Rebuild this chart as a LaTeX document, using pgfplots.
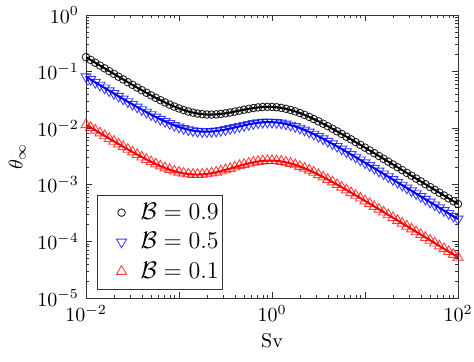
\documentclass[border=0pt]{standalone}
\usepackage{pgfplots}
\usepackage{pgfplotstable}
\pgfplotsset{compat=1.18}
\usetikzlibrary{calc}

% Sv, B=0.9, B=0.5, B=0.1
\pgfplotstableread{
Sv      b9        b5        b1
0.01    0.1804    0.08124   0.01155
0.01122 0.1609    0.07246   0.01031
0.01259 0.1435    0.06464   0.009199
0.01413 0.1281    0.05768   0.008214
0.01585 0.1143    0.05149   0.007337
0.01778 0.1020    0.04598   0.006558
0.01995 0.09109   0.04108   0.005866
0.02239 0.08139   0.03672   0.005252
0.02512 0.07276   0.03285   0.004707
0.02818 0.06511   0.02942   0.004225
0.03162 0.05831   0.02637   0.003799
0.03548 0.05229   0.02368   0.003423
0.03981 0.04696   0.02130   0.003093
0.04467 0.04226   0.01920   0.002803
0.05012 0.03812   0.01736   0.002551
0.05623 0.03448   0.01575   0.002333
0.0631  0.03129   0.01435   0.002145
0.07079 0.02853   0.01313   0.001986
0.07943 0.02613   0.01209   0.001853
0.08913 0.02409   0.01121   0.001744
0.1     0.02236   0.01048   0.001658
0.1122  0.02092   0.009878  0.001593
0.1259  0.01975   0.009408  0.001549
0.1413  0.01884   0.009058  0.001525
0.1585  0.01816   0.008821  0.001519
0.1778  0.01771   0.008692  0.001531
0.1995  0.01746   0.008665  0.001561
0.2239  0.01742   0.008735  0.001607
0.2512  0.01756   0.008896  0.001670
0.2818  0.01788   0.009140  0.001747
0.3162  0.01834   0.009461  0.001838
0.3548  0.01894   0.009846  0.001941
0.3981  0.01964   0.01028   0.002052
0.4467  0.02041   0.01075   0.002168
0.5012  0.02122   0.01123   0.002284
0.5623  0.02200   0.01169   0.002396
0.631   0.02271   0.01211   0.002497
0.7079  0.02329   0.01246   0.002582
0.7943  0.02370   0.01271   0.002643
0.8913  0.02387   0.01283   0.002677
1       0.02380   0.01281   0.002680
1.122   0.02346   0.01264   0.002651
1.259   0.02286   0.01233   0.002590
1.413   0.02202   0.01189   0.002501
1.585   0.02099   0.01134   0.002388
1.778   0.01981   0.01071   0.002256
1.995   0.01853   0.01002   0.002113
2.239   0.01719   0.009299  0.001962
2.512   0.01584   0.008569  0.001809
2.818   0.01450   0.007850  0.001658
3.162   0.01322   0.007156  0.001511
3.548   0.01200   0.006494  0.001372
3.981   0.01085   0.005874  0.001241
4.467   0.009783  0.005298  0.001119
5.012   0.008802  0.004767  0.001007
5.623   0.007905  0.004281  0.0009048
6.31    0.007088  0.003838  0.0008113
7.079   0.006348  0.003438  0.0007267
7.943   0.005680  0.003076  0.0006503
8.913   0.005078  0.002750  0.0005814
10      0.004536  0.002457  0.0005194
11.22   0.004051  0.002194  0.0004639
12.59   0.003616  0.001958  0.0004140
14.13   0.003227  0.001748  0.0003695
15.85   0.002879  0.001559  0.0003297
17.78   0.002568  0.001391  0.0002941
19.95   0.002290  0.001241  0.0002623
22.39   0.002042  0.001106  0.0002338
25.12   0.001821  0.0009862 0.0002085
28.18   0.001623  0.0008787 0.0001859
31.62   0.001447  0.0007836 0.0001657
35.48   0.001290  0.0006988 0.0001477
39.81   0.001150  0.0006223 0.0001317
44.67   0.001025  0.0005551 0.0001174
50.12   0.0009135 0.0004952 0.0001046
56.23   0.0008142 0.0004414 0.00009325
63.1    0.0007257 0.0003928 0.00008312
70.79   0.0006468 0.0003504 0.00007412
79.43   0.0005765 0.0003122 0.00006605
89.13   0.0005138 0.0002781 0.00005889
100     0.0004580 0.0002481 0.00005245
}\data

\begin{document}
\begin{tikzpicture}
\begin{axis}[
    name=ax,
    scale only axis,
    width=186pt, height=141.5pt,
    xmode=log, ymode=log,
    xmin=1e-2, xmax=1e2,
    ymin=1e-5, ymax=1,
    xtick={1e-2,1e-1,1,1e1,1e2},
    xticklabels={$10^{-2}$,,$10^{0}$,,$10^{2}$},
    ytick={1e-5,1e-4,1e-3,1e-2,1e-1,1},
    tick align=inside,
    major tick length=2.8pt,
    minor tick length=1.6pt,
    axis line style={black!80, line width=0.4pt},
    every tick/.style={black!80, line width=0.4pt},
    xlabel={Sv},
    ylabel={$\theta_\infty$},
    xlabel style={yshift=1pt},
    ylabel style={yshift=-1pt},
    legend style={at={(0.03,0.03)}, anchor=south west, draw=black!80,
        line width=0.4pt, row sep=1pt, inner xsep=0pt, inner ysep=2pt,
        font=\large},
    legend cell align=left,
    legend image code/.code={%
        \path[draw=none, fill=none] (0pt,0pt) -- (19.5pt,0pt);
        \draw[#1] plot[only marks] coordinates {(12pt,0pt)};},
]
\addplot[only marks, mark=o, black, mark size=1.9pt,
    mark options={line width=0.45pt, draw opacity=0.85}] table[x=Sv, y=b9] {\data};
\addlegendentry{$\mathcal{B}=0.9$}
\addplot[black, line width=1pt, forget plot] table[x=Sv, y=b9] {\data};

\addplot[only marks, mark=triangle, blue, mark size=2.9pt,
    mark options={rotate=180, line width=0.45pt, draw opacity=0.75}] table[x=Sv, y=b5] {\data};
\addlegendentry{$\mathcal{B}=0.5$}
\addplot[blue, line width=1pt, forget plot] table[x=Sv, y=b5] {\data};

\addplot[only marks, mark=triangle, red, mark size=2.9pt,
    mark options={line width=0.45pt, draw opacity=0.75}] table[x=Sv, y=b1] {\data};
\addlegendentry{$\mathcal{B}=0.1$}
\addplot[red, line width=1pt, forget plot] table[x=Sv, y=b1] {\data};
\end{axis}
\pgfresetboundingbox
\path[use as bounding box] ($(ax.south west)+(-43pt,-31.5pt)$) rectangle ($(ax.north east)+(8pt,7.5pt)$);
\end{tikzpicture}
\end{document}
